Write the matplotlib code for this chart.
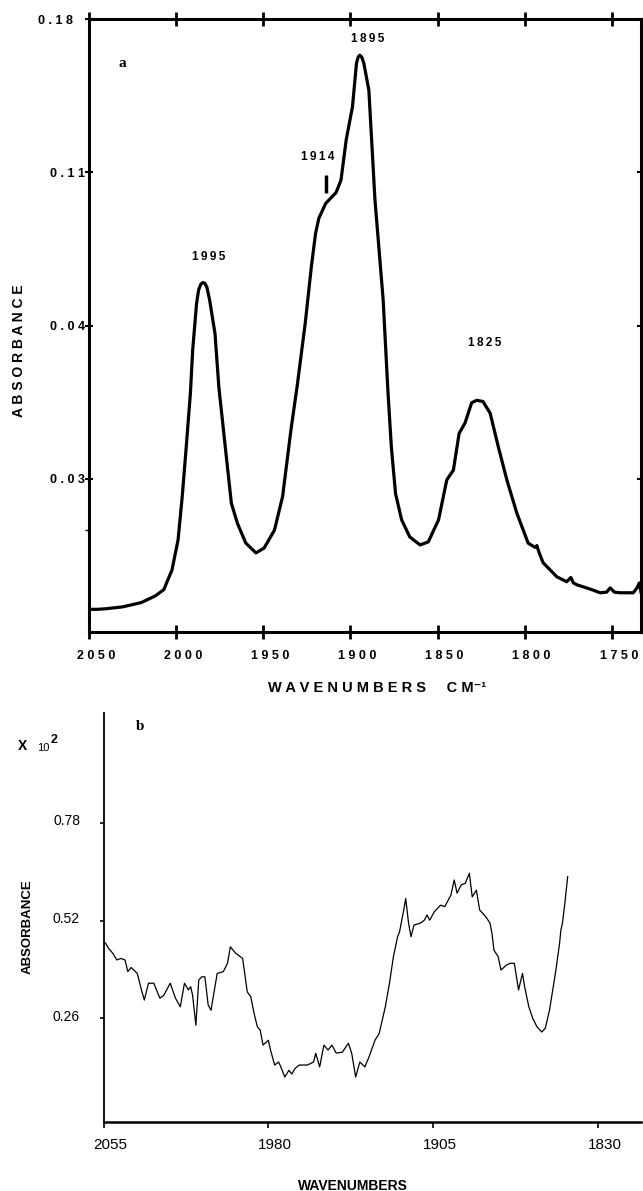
import matplotlib
matplotlib.use("Agg")
import matplotlib.pyplot as plt
import matplotlib.transforms as mtransforms

plt.rcParams['font.family'] = ['Liberation Sans', 'DejaVu Sans']

W, H = 643, 1191

# ---- panel a : IR spectrum (y as fraction of axis height, axis labels are non-linear)
wn_a = [2050, 2045.0, 2040.0, 2030.7, 2020.0, 2011.9, 2007.1, 2002.4, 1998.9, 1996.5,
        1994.2, 1991.8, 1990.5, 1988.3, 1987.1, 1985.9, 1984.8, 1983.6, 1982.4, 1980.8,
        1977.7, 1975.5, 1971.8, 1968.3, 1964.8, 1960.0, 1954.2, 1949.5, 1943.6, 1938.9,
        1934.1, 1930.6, 1925.9, 1922.4, 1920.0, 1918.1, 1914.2, 1908.2, 1905.4, 1902.4,
        1898.8, 1896.5, 1895.5, 1894.6, 1893.5, 1892.3, 1889.4, 1885.9, 1881.2, 1878.5,
        1876.5, 1874.1, 1870.6, 1865.9, 1860.0, 1855.3, 1849.4, 1844.7, 1840.9, 1837.6,
        1834.2, 1830.4, 1827.5, 1823.9, 1819.8, 1815.1, 1810.2, 1804.5, 1798.0, 1794.0,
        1793.0, 1791.5, 1789.4, 1781.5, 1775.8, 1773.5, 1772.0, 1770.0, 1762.4, 1756.6,
        1753.0, 1750.9, 1748.5, 1745.2, 1737.7, 1735.5, 1734.2, 1733.0]
abs_a = [0.037, 0.037, 0.038, 0.041, 0.048, 0.059, 0.069, 0.101, 0.150, 0.221,
         0.302, 0.390, 0.460, 0.535, 0.558, 0.567, 0.570, 0.569, 0.563, 0.542,
         0.487, 0.400, 0.302, 0.210, 0.177, 0.145, 0.129, 0.137, 0.166, 0.221,
         0.330, 0.400, 0.504, 0.596, 0.650, 0.675, 0.699, 0.717, 0.737, 0.803,
         0.857, 0.928, 0.938, 0.941, 0.938, 0.928, 0.884, 0.705, 0.542, 0.395,
         0.302, 0.226, 0.183, 0.155, 0.142, 0.147, 0.183, 0.248, 0.264, 0.324,
         0.341, 0.374, 0.378, 0.376, 0.357, 0.302, 0.248, 0.194, 0.145, 0.138,
         0.141, 0.128, 0.113, 0.090, 0.082, 0.089, 0.080, 0.077, 0.070, 0.064,
         0.065, 0.072, 0.065, 0.064, 0.064, 0.072, 0.080, 0.062]

ticks_a_x = [2050, 2000, 1950, 1900, 1850, 1800, 1750]
ticks_a_y = [1.0, 0.75, 0.5, 0.25]
labels_a_y = ["0.18", "0.11", "0.04", "0.03"]

peak_labels = ["1995", "1914", "1895", "1825"]
peak_pos_x = [1981.2, 1918.5, 1890.0, 1823.0]
peak_pos_y = [0.611, 0.775, 0.968, 0.471]

# ---- panel b : difference spectrum, absorbance x 10^2
wn_b = [2055.0, 2054.1, 2052.8, 2050.9, 2049.0, 2047.2, 2045.3, 2044.0, 2042.5, 2039.7,
        2037.8, 2036.5, 2034.6, 2032.2, 2029.4, 2027.6, 2024.7, 2022.3, 2020.1, 2018.2,
        2016.4, 2015.4, 2014.5, 2013.0, 2011.7, 2010.4, 2008.9, 2007.4, 2006.1, 2003.3,
        2000.5, 1998.6, 1997.3, 1994.9, 1991.7, 1989.6, 1988.0, 1986.5, 1985.0, 1983.7,
        1982.4, 1980.0, 1979.0, 1977.1, 1975.3, 1974.3, 1972.5, 1970.6, 1969.3, 1967.8,
        1965.9, 1962.2, 1959.4, 1958.4, 1956.6, 1954.7, 1952.8, 1951.0, 1949.1, 1946.3,
        1943.5, 1942.0, 1940.2, 1938.3, 1936.0, 1934.1, 1931.4, 1929.5, 1926.7, 1924.8,
        1923.0, 1921.1, 1920.2, 1918.3, 1917.4, 1916.1, 1915.0, 1913.6, 1910.8, 1908.9,
        1907.7, 1906.5, 1904.3, 1901.5, 1899.6, 1896.8, 1895.3, 1894.0, 1892.1, 1890.3,
        1888.4, 1887.1, 1885.2, 1883.7, 1880.9, 1879.0, 1878.1, 1877.2, 1875.3, 1874.0,
        1871.6, 1869.8, 1867.9, 1866.0, 1864.2, 1863.2, 1861.3, 1859.5, 1857.6, 1855.4,
        1853.8, 1851.9, 1849.2, 1847.3, 1846.7, 1846.0, 1844.9, 1843.6]
abs_b = [0.463, 0.459, 0.446, 0.433, 0.415, 0.419, 0.415, 0.384, 0.395, 0.379,
         0.335, 0.308, 0.353, 0.353, 0.313, 0.321, 0.353, 0.313, 0.290, 0.353,
         0.335, 0.344, 0.321, 0.241, 0.361, 0.370, 0.370, 0.295, 0.281, 0.379,
         0.384, 0.406, 0.450, 0.433, 0.419, 0.330, 0.317, 0.273, 0.237, 0.228,
         0.188, 0.201, 0.175, 0.135, 0.143, 0.130, 0.103, 0.121, 0.111, 0.126,
         0.135, 0.135, 0.143, 0.166, 0.130, 0.188, 0.175, 0.188, 0.167, 0.169,
         0.193, 0.166, 0.103, 0.143, 0.130, 0.157, 0.201, 0.219, 0.290, 0.353,
         0.424, 0.477, 0.490, 0.548, 0.579, 0.513, 0.477, 0.508, 0.513, 0.521,
         0.535, 0.521, 0.544, 0.561, 0.557, 0.588, 0.628, 0.593, 0.615, 0.619,
         0.646, 0.583, 0.601, 0.548, 0.530, 0.513, 0.486, 0.441, 0.424, 0.388,
         0.401, 0.406, 0.406, 0.335, 0.379, 0.343, 0.290, 0.259, 0.237, 0.223,
         0.233, 0.281, 0.379, 0.459, 0.495, 0.513, 0.566, 0.637]

ticks_b_x = [2055, 1980, 1905, 1830]
ticks_b_y = [0.26, 0.52, 0.78]


def spaced(s, sep=" "):
    return sep.join(s)


def px(x, y):
    return x / W, 1 - y / H


def nudge(fig, dx, dy):
    return mtransforms.ScaledTranslation(dx / 100, -dy / 100, fig.dpi_scale_trans)


fig = plt.figure(figsize=(W / 100, H / 100), dpi=100)

# ---------------- panel a
axa = fig.add_axes([89 / W, 1 - 632 / H, (641.4 - 89) / W, (632 - 19) / H])
axa.plot(wn_a, abs_a, color="black", lw=2.3, solid_joinstyle="round")
axa.vlines(1914.2, 0.716, 0.745, color="black", lw=2.5)
axa.set_xlim(2050, 1733)
axa.set_ylim(0, 1)
for s in axa.spines.values():
    s.set_linewidth(2.2)
axa.set_xticks(ticks_a_x)
axa.set_xticklabels([spaced(str(t)) for t in ticks_a_x])
axa.set_yticks(ticks_a_y)
axa.set_yticklabels([spaced(t) for t in labels_a_y])
axa.set_yticks([0.166], minor=True)
axa.tick_params(axis="x", direction="inout", length=10, width=2, top=True,
                labelsize=9, pad=8)
axa.tick_params(axis="y", direction="inout", length=6, width=1.5, right=True,
                labelsize=9, pad=0)
axa.tick_params(axis="y", which="minor", direction="out", length=3, width=1)
for lab in axa.get_xticklabels() + axa.get_yticklabels():
    lab.set_fontweight("bold")
for lab in axa.get_xticklabels():
    lab.set_transform(lab.get_transform() + nudge(fig, 7, 0))
top_lab = axa.get_yticklabels()[0]
top_lab.set_transform(top_lab.get_transform() + nudge(fig, -12, 0))

for t, x, y in zip(peak_labels, peak_pos_x, peak_pos_y):
    axa.text(x, y, spaced(t, "\u2009"), ha="center", va="center", fontsize=8.5,
             fontweight="bold")
axa.text(2030.6, 0.928, "a", ha="center", va="center", fontsize=11,
         fontweight="bold", family=["Liberation Serif", "DejaVu Serif"])

fig.text(*px(19, 351), spaced("ABSORBANCE"), rotation=90, ha="center", va="center",
         fontsize=10, fontweight="bold")
fig.text(*px(377, 688), "W A V E N U M B E R S     C M⁻¹", ha="center", va="center",
         fontsize=10.5, fontweight="bold")

# ---------------- panel b
axb = fig.add_axes([103.7 / W, 1 - 1121.7 / H, (641 - 103.7) / W, (1121.7 - 713) / H])
axb.plot(wn_b, abs_b, color="black", lw=0.9)
axb.set_xlim(2055, 1810.2)
axb.set_ylim(-0.016, 1.073)
axb.spines["top"].set_visible(False)
axb.spines["right"].set_visible(False)
axb.spines["left"].set_linewidth(1.3)
axb.spines["bottom"].set_linewidth(1.8)
axb.set_xticks(ticks_b_x)
axb.set_xticklabels([str(t) for t in ticks_b_x])
axb.set_yticks(ticks_b_y)
axb.set_yticklabels(["%.2f" % t for t in ticks_b_y])
axb.tick_params(axis="x", direction="out", length=4, width=1.2, labelsize=11, pad=8)
axb.tick_params(axis="y", direction="out", length=3, width=1.2, labelsize=10, pad=14)
for lab in axb.get_xticklabels():
    lab.set_transform(lab.get_transform() + nudge(fig, 7, 0))
for lab in axb.get_yticklabels():
    lab.set_transform(lab.get_transform() + nudge(fig, 0, -3))

fig.text(*px(140, 727), "b", ha="center", va="center", fontsize=11, fontweight="bold",
         family=["Liberation Serif", "DejaVu Serif"])
fig.text(*px(18, 746), "X", ha="left", va="center", fontsize=10, fontweight="bold")
fig.text(*px(37, 748), "10", ha="left", va="center", fontsize=8)
fig.text(*px(51, 740), "2", ha="left", va="center", fontsize=9, fontweight="bold")
fig.text(*px(28, 927), "ABSORBANCE", rotation=90, ha="center", va="center",
         fontsize=9.5, fontweight="bold")
fig.text(*px(353, 1186), "WAVENUMBERS", ha="center", va="center", fontsize=10,
         fontweight="bold")

fig.savefig("out.png", dpi=100)
